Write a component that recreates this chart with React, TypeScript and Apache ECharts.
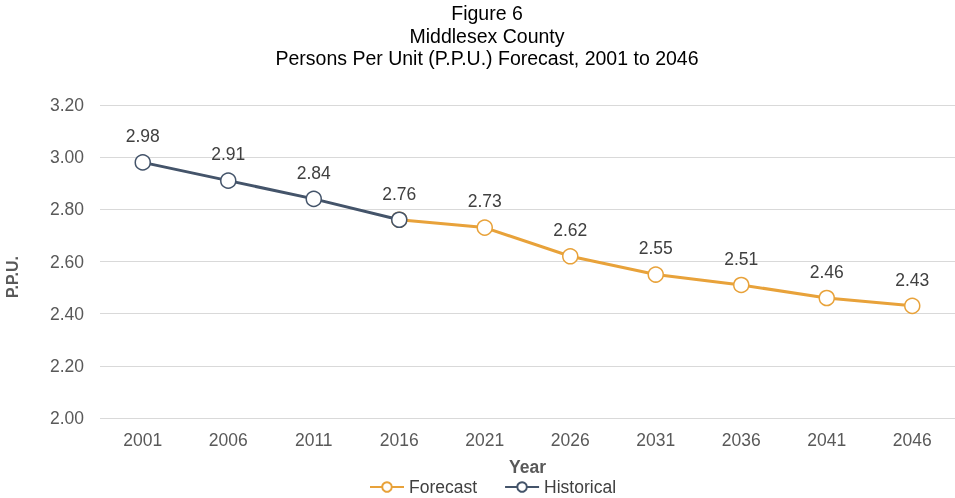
import React, { useEffect, useRef } from "react";
import * as echarts from "echarts";

const years = ["2001", "2006", "2011", "2016", "2021", "2026", "2031", "2036", "2041", "2046"];
const historical = [2.98, 2.91, 2.84, 2.76, null, null, null, null, null, null];
const forecast = [null, null, null, 2.76, 2.73, 2.62, 2.55, 2.51, 2.46, 2.43];
const forecastLabelled = [false, false, false, false, true, true, true, true, true, true];

const ORANGE = "#E8A23A";
const NAVY = "#44546A";
const FONT = "Liberation Sans, Arial, sans-serif";

export default function App() {
  const ref = useRef<HTMLDivElement>(null);
  useEffect(() => {
    const chart = echarts.init(ref.current!, undefined, { renderer: "svg" });
    const labelCfg = {
      show: true,
      position: "top",
      distance: 9,
      fontSize: 17.5,
      color: "#404040",
      formatter: (p: any) => Number(p.value).toFixed(2),
      fontFamily: FONT,
    };
    chart.setOption({
      animation: false,
      textStyle: { fontFamily: FONT },
      title: {
        text: "Figure 6\nMiddlesex County\nPersons Per Unit (P.P.U.) Forecast, 2001 to 2046",
        left: 482,
        textAlign: "center",
        top: -3,
        textStyle: { fontSize: 19.5, fontWeight: "normal", color: "#000", lineHeight: 22.5, fontFamily: FONT },
      },
      legend: {
        top: 473,
        left: 364,
        itemGap: 27,
        itemWidth: 34,
        itemHeight: 12,
        textStyle: { fontSize: 17.5, color: "#404040", fontFamily: FONT },
        data: ["Forecast", "Historical"],
      },
      graphic: [
        {
          type: "text",
          x: 12,
          y: 277,
          rotation: Math.PI / 2,
          style: {
            text: "P.P.U.",
            fontSize: 16,
            fontWeight: "bold",
            fill: "#595959",
            fontFamily: FONT,
            textAlign: "center",
            textVerticalAlign: "middle",
          },
        },
      ],
      grid: { left: 100, right: 0, top: 105, bottom: 80, containLabel: false, outerBoundsMode: "none" },
      xAxis: {
        type: "category",
        data: years,
        name: "Year",
        nameLocation: "middle",
        nameGap: 40,
        nameTextStyle: { fontSize: 17.5, fontWeight: "bold", color: "#595959", fontFamily: FONT },
        axisLine: { show: false },
        axisTick: { show: false },
        axisLabel: { fontSize: 17.5, color: "#595959", margin: 13, fontFamily: FONT },
      },
      yAxis: {
        type: "value",
        min: 2.0,
        max: 3.2,
        interval: 0.2,
        axisLabel: {
          fontSize: 17.5,
          color: "#595959",
          margin: 16,
          formatter: (v: number) => v.toFixed(2),
          fontFamily: FONT,
        },
        splitLine: { lineStyle: { color: "#D9D9D9", width: 1 } },
      },
      series: [
        {
          name: "Forecast",
          type: "line",
          data: forecast.map((v, i) => ({
            value: v,
            label: { show: forecastLabelled[i] },
          })),
          symbol: "circle",
          symbolSize: 15,
          lineStyle: { color: ORANGE, width: 3 },
          itemStyle: { color: "#fff", borderColor: ORANGE, borderWidth: 1.5 },
          label: labelCfg,
          z: 2,
        },
        {
          name: "Historical",
          type: "line",
          data: historical,
          symbol: "circle",
          symbolSize: 15,
          lineStyle: { color: NAVY, width: 3 },
          itemStyle: { color: "#fff", borderColor: NAVY, borderWidth: 1.5 },
          label: labelCfg,
          z: 3,
        },
      ],
    });
    return () => chart.dispose();
  }, []);
  return <div ref={ref} style={{ width: 955, height: 498, position: "fixed", left: 0, top: 0 }} />;
}
